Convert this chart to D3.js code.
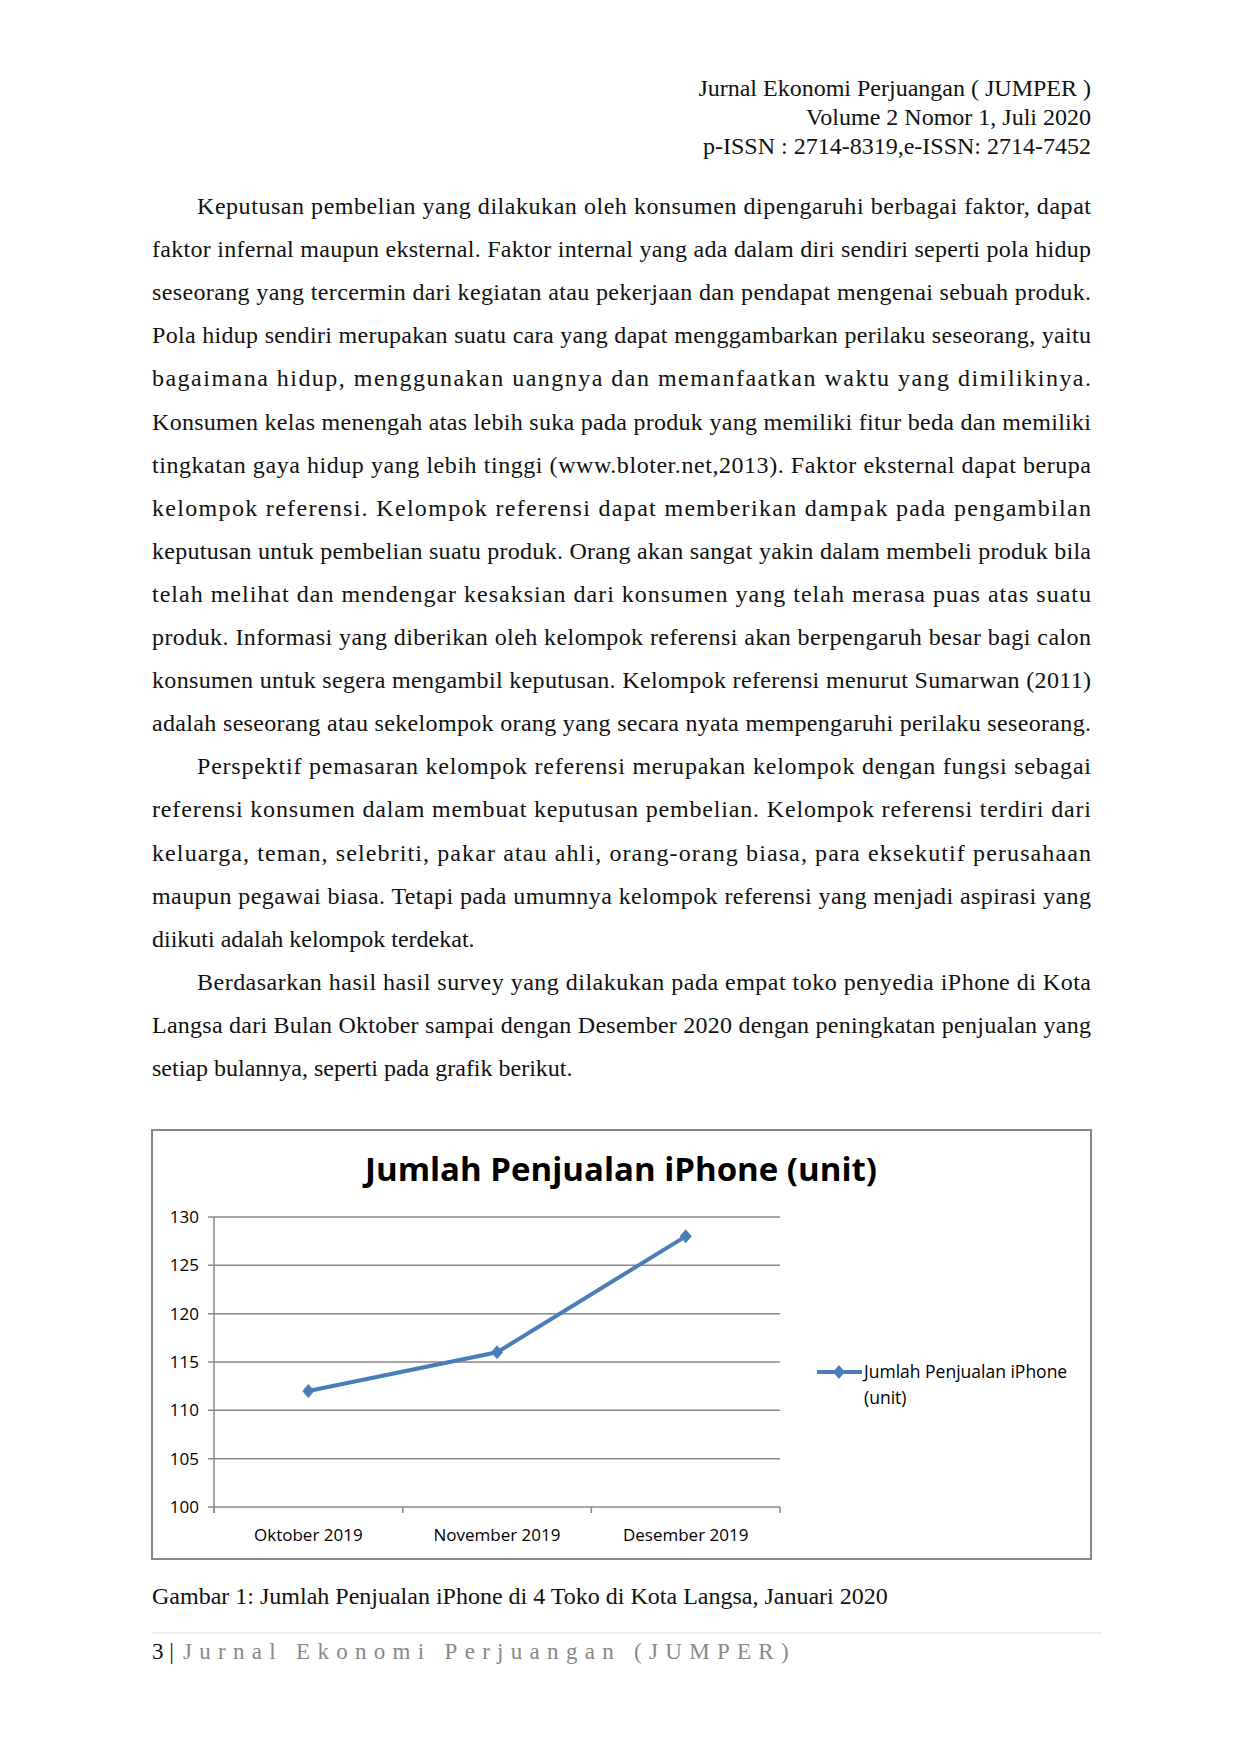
<!DOCTYPE html>
<html><head><meta charset="utf-8">
<script src="https://cdn.jsdelivr.net/npm/d3@7"></script>
<style>body{margin:0;background:#fff}</style></head>
<body><svg id="p" width="1240" height="1754"></svg>
<script>
const categories=["Oktober 2019","November 2019","Desember 2019"];
const values=[112,116,128];
const yTicks=[100,105,110,115,120,125,130];
const header=["Jurnal Ekonomi Perjuangan ( JUMPER )","Volume 2 Nomor 1, Juli 2020","p-ISSN : 2714-8319,e-ISSN: 2714-7452"];
const lines=[
["Keputusan pembelian yang dilakukan oleh konsumen dipengaruhi berbagai faktor, dapat",1,1],
["faktor infernal maupun eksternal. Faktor internal yang ada dalam diri sendiri seperti pola hidup",0,1],
["seseorang yang tercermin dari kegiatan atau pekerjaan dan pendapat mengenai sebuah produk.",0,1],
["Pola hidup sendiri merupakan suatu cara yang dapat menggambarkan perilaku seseorang, yaitu",0,1],
["bagaimana hidup, menggunakan uangnya dan memanfaatkan waktu yang dimilikinya.",0,1],
["Konsumen kelas menengah atas lebih suka pada produk yang memiliki fitur beda dan memiliki",0,1],
["tingkatan gaya hidup yang lebih tinggi (www.bloter.net,2013). Faktor eksternal dapat berupa",0,1],
["kelompok referensi. Kelompok referensi dapat memberikan dampak pada pengambilan",0,1],
["keputusan untuk pembelian suatu produk. Orang akan sangat yakin dalam membeli produk bila",0,1],
["telah melihat dan mendengar kesaksian dari konsumen yang telah merasa puas atas suatu",0,1],
["produk. Informasi yang diberikan oleh kelompok referensi akan berpengaruh besar bagi calon",0,1],
["konsumen untuk segera mengambil keputusan. Kelompok referensi menurut Sumarwan (2011)",0,1],
["adalah seseorang atau sekelompok orang yang secara nyata mempengaruhi perilaku seseorang.",0,1],
["Perspektif pemasaran kelompok referensi merupakan kelompok dengan fungsi sebagai",1,1],
["referensi konsumen dalam membuat keputusan pembelian. Kelompok referensi terdiri dari",0,1],
["keluarga, teman, selebriti, pakar atau ahli, orang-orang biasa, para eksekutif perusahaan",0,1],
["maupun pegawai biasa. Tetapi pada umumnya kelompok referensi yang menjadi aspirasi yang",0,1],
["diikuti adalah kelompok terdekat.",0,0],
["Berdasarkan hasil hasil survey yang dilakukan pada empat toko penyedia iPhone di Kota",1,1],
["Langsa dari Bulan Oktober sampai dengan Desember 2020 dengan peningkatan penjualan yang",0,1],
["setiap bulannya, seperti pada grafik berikut.",0,0]];
const svg=d3.select("#p");
const serif="'Liberation Serif','Times New Roman',serif";
const L=152,R=1091;
header.forEach((t,i)=>svg.append("text").attr("x",R).attr("y",96+i*29).attr("text-anchor","end")
 .attr("font-family",serif).attr("font-size",24).attr("fill","#111").text(t));
lines.forEach((l,i)=>{
 const x=l[1]?197:L;
 const t=svg.append("text").attr("x",x).attr("y",214+i*43.1).attr("font-family",serif).attr("font-size",24).attr("fill","#111").text(l[0]);
 if(l[2]) t.attr("textLength",R-x).attr("lengthAdjust","spacing");
});
svg.append("rect").attr("x",152).attr("y",1130).attr("width",939).attr("height",429).attr("fill","#fff").attr("stroke","#888").attr("stroke-width",2);
const sans="'Open Sans','Noto Sans',sans-serif";
svg.append("text").attr("x",621).attr("y",1181).attr("text-anchor","middle").attr("font-family",sans).attr("font-weight","bold").attr("font-size",33).attr("fill","#000").text("Jumlah Penjualan iPhone (unit)");
const x0=214,x1=780,y0=1507,y1=1217;
const x=d3.scaleBand().domain(categories).range([x0,x1]);
const y=d3.scaleLinear().domain([100,130]).range([y0,y1]);
const g=svg.append("g");
yTicks.forEach(v=>{
 g.append("line").attr("x1",x0-6).attr("x2",x1).attr("y1",y(v)).attr("y2",y(v)).attr("stroke","#888").attr("stroke-width",1.5);
 g.append("text").attr("x",x0-15).attr("y",y(v)+6).attr("text-anchor","end").attr("font-family",sans).attr("font-size",17).text(v);
});
g.append("line").attr("x1",x0).attr("x2",x0).attr("y1",y1).attr("y2",y0+6).attr("stroke","#888").attr("stroke-width",1.5);
[x0,...categories.map(c=>x(c)+x.bandwidth())].forEach(v=>g.append("line").attr("x1",v).attr("x2",v).attr("y1",y0).attr("y2",y0+6).attr("stroke","#888").attr("stroke-width",1.5));
categories.forEach(c=>g.append("text").attr("x",x(c)+x.bandwidth()/2).attr("y",1541).attr("text-anchor","middle").attr("font-family",sans).attr("font-size",17).text(c));
const cx=c=>x(c)+x.bandwidth()/2;
g.append("path").attr("d",d3.line()(categories.map((c,i)=>[cx(c),y(values[i])]))).attr("fill","none").attr("stroke","#4a7ebb").attr("stroke-width",4);
const dia=(px,py)=>`M${px},${py-7}L${px+6},${py}L${px},${py+7}L${px-6},${py}Z`;
categories.forEach((c,i)=>g.append("path").attr("d",dia(cx(c),y(values[i]))).attr("fill","#4a7ebb"));
g.append("line").attr("x1",817).attr("x2",862).attr("y1",1372).attr("y2",1372).attr("stroke","#4a7ebb").attr("stroke-width",4);
g.append("path").attr("d",dia(839,1372)).attr("fill","#4a7ebb");
g.append("text").attr("x",864).attr("y",1378).attr("font-family",sans).attr("font-size",17.5).text("Jumlah Penjualan iPhone");
g.append("text").attr("x",864).attr("y",1404).attr("font-family",sans).attr("font-size",17.5).text("(unit)");
svg.append("text").attr("x",L).attr("y",1604).attr("font-family",serif).attr("font-size",24).attr("fill","#111").text("Gambar 1: Jumlah Penjualan iPhone di 4 Toko di Kota Langsa, Januari 2020");
svg.append("line").attr("x1",L).attr("x2",1102).attr("y1",1633).attr("y2",1633).attr("stroke","#ddd");
svg.append("text").attr("x",L).attr("y",1659).attr("font-family",serif).attr("font-size",23).attr("fill","#111").text("3 |");
svg.append("text").attr("x",183).attr("y",1659).attr("font-family",serif).attr("font-size",23).attr("fill","#888").attr("letter-spacing",7.3).text("Jurnal Ekonomi Perjuangan (JUMPER)");
</script></body></html>
